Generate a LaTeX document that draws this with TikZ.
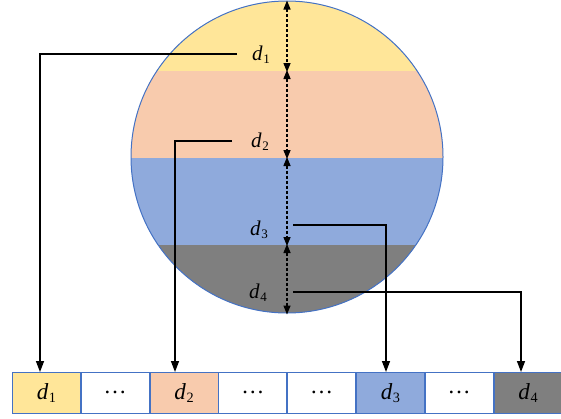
\documentclass[tikz,border=0pt]{standalone}
\usepackage{fontspec}
\setmainfont{Liberation Serif}
\usetikzlibrary{arrows.meta,calc}
\definecolor{cyel}{HTML}{FFE699}
\definecolor{cpea}{HTML}{F8CBAD}
\definecolor{cblu}{HTML}{8FAADC}
\definecolor{cgry}{HTML}{7F7F7F}
\definecolor{cedge}{HTML}{4472C4}
\newcommand{\dsub}[1]{\textit{d}\kern0.6pt\raisebox{-0.15em}{\fontsize{0.62em}{1em}\selectfont #1}}
\tikzset{
  lbl/.style={inner sep=1pt, font=\fontsize{21}{21}\selectfont},
  cell/.style={draw=cedge, line width=0.9pt, minimum width=67.9pt, minimum height=41pt, inner sep=0pt, anchor=north west, font=\fontsize{23}{23}\selectfont},
  conn/.style={line width=1.4pt, -{Triangle[length=11pt,width=8pt]}},
  dim/.style={line width=1.4pt, dash pattern=on 3.3pt off 1.7pt, {Triangle[length=9pt,width=7pt]}-{Triangle[length=9pt,width=7pt]}}
}
\begin{document}
\begin{tikzpicture}[x=1pt,y=-1pt]
\useasboundingbox (0,0) rectangle (561,418);
% circle bands
\begin{scope}
\clip (287,157) circle [radius=156pt];
\fill[cyel] (120,0) rectangle (460,71);
\fill[cpea] (120,71) rectangle (460,158);
\fill[cblu] (120,158) rectangle (460,245);
\fill[cgry] (120,245) rectangle (460,320);
\end{scope}
\node[draw=cedge, line width=1pt, circle, minimum size=312pt, inner sep=0pt] (circ) at (287,157) {};
% dimension arrows
\coordinate (a0) at (287,1);
\coordinate (a1) at (287,71);
\coordinate (a2) at (287,158);
\coordinate (a3) at (287,245);
\coordinate (a4) at (287,314);
\draw[dim] ([yshift=0.5pt]a0) -- ([yshift=-1pt]a1);
\draw[dim] ([yshift=1pt]a1) -- ([yshift=-1pt]a2);
\draw[dim] ([yshift=1pt]a2) -- ([yshift=-1pt]a3);
\draw[dim] ([yshift=1pt]a3) -- ([yshift=-0.5pt]a4);
% labels
\node[lbl] (l1) at (261,55) {\dsub{1}};
\node[lbl] (l2) at (260,142) {\dsub{2}};
\node[lbl] (l3) at (259,230) {\dsub{3}};
\node[lbl] (l4) at (258,293) {\dsub{4}};
% cells
\node[cell, fill=cyel] (b1) at (12,372) {\dsub{1}};
\node[cell] (b2) at (b1.north east) {…};
\node[cell, fill=cpea] (b3) at (b2.north east) {\dsub{2}};
\node[cell] (b4) at (b3.north east) {…};
\node[cell] (b5) at (b4.north east) {…};
\node[cell, fill=cblu] (b6) at (b5.north east) {\dsub{3}};
\node[cell] (b7) at (b6.north east) {…};
\node[cell, fill=cgry] (b8) at (b7.north east) {\dsub{4}};
% connectors
\coordinate (s1) at (237,54);
\coordinate (s2) at (232,141);
\coordinate (s3) at (293,225);
\coordinate (s4) at (293,292);
\coordinate (t1) at (40,372);
\coordinate (t2) at (175,372);
\coordinate (t3) at (386,372);
\coordinate (t4) at (521,372);
\draw[conn] (s1) -| (t1);
\draw[conn] (s2) -| (t2);
\draw[conn] (s3) -| (t3);
\draw[conn] (s4) -| (t4);
\end{tikzpicture}
\end{document}
